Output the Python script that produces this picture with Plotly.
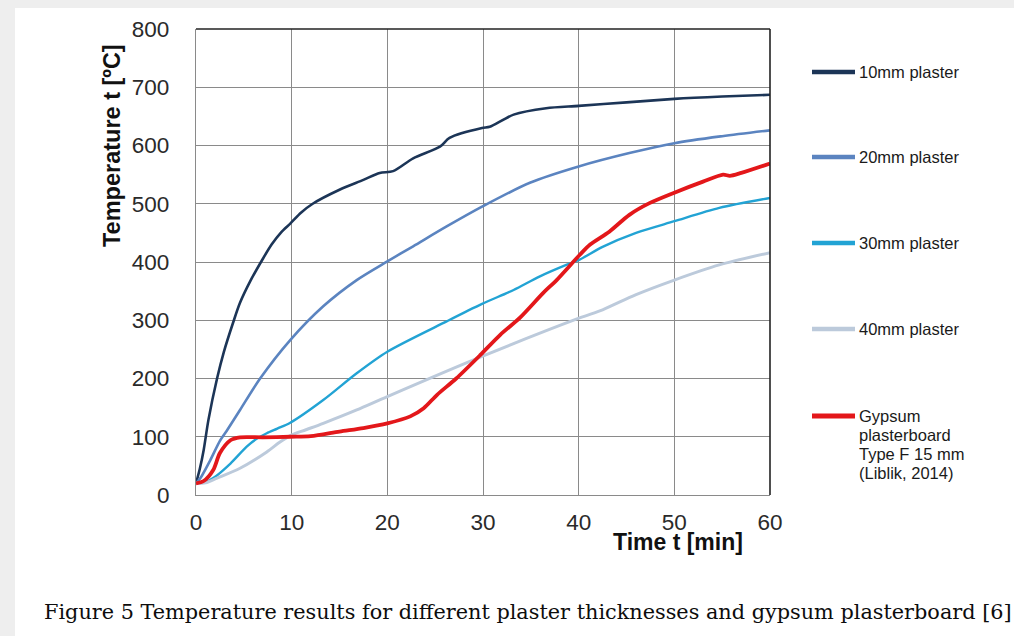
import plotly.graph_objects as go

# Time axis ticks (min) and temperature ticks (°C)
x_ticks = [0, 10, 20, 30, 40, 50, 60]
y_ticks = [0, 100, 200, 300, 400, 500, 600, 700, 800]

# 10 mm plaster
t_10 = [0, 0.4, 0.8, 1.3, 2.2, 2.9, 3.9, 4.6, 5.7, 6.9, 7.9, 8.9, 9.85, 11, 12.2, 15, 17.5,
        19.2, 20.6, 22.7, 25.5, 26.5, 29.9, 30.7, 33.2, 36.6, 40, 45, 50, 55, 60]
T_10 = [20, 45, 77, 129, 200, 245, 297, 330, 368, 403, 430, 451, 466, 485, 500, 524, 541,
        553, 556, 578, 598, 613, 630, 632, 653, 664, 668, 674, 680, 684, 687]

# 20 mm plaster
t_20 = [0, 0.5, 1.5, 2.5, 3.2, 4.6, 6.7, 9.85, 13.3, 16.8, 20, 22.7, 26.2, 29.9,
        34.9, 40, 45.3, 50, 55, 60]
T_20 = [20, 30, 60, 93, 110, 146, 200, 266, 324, 369, 401, 427, 461, 495,
        536, 564, 587, 604, 616, 626]

# 30 mm plaster
t_30 = [0, 1, 1.8, 3.6, 5.3, 6.3, 7.4, 8.5, 9.85, 13.3, 16.8, 20, 26.2, 29.9, 33.2, 35.9,
        38.7, 40.1, 42.5, 46, 50, 54.7, 60]
T_30 = [20, 22, 29, 54, 83, 96, 106, 114, 124, 163, 209, 246, 298, 328, 352, 375,
        395, 404, 426, 450, 470, 493, 510]

# 40 mm plaster
t_40 = [0, 1, 2.2, 4.6, 7.4, 8.7, 9.85, 11.5, 13.3, 16.8, 20, 29.9, 40.1, 42.5, 46, 50, 54.7, 60]
T_40 = [20, 21, 29, 46, 74, 90, 102, 112, 123, 146, 169, 238, 304, 318, 344, 369, 395, 416]

# Gypsum plasterboard Type F 15 mm
t_gyp = [0, 0.8, 1.8, 2.5, 3.6, 4.6, 7, 9.85, 12, 15, 17.5, 20, 22.4, 23.8, 25.2, 27.2,
         29.7, 31.8, 33.9, 36.3, 37.7, 40.1, 41.2, 43.2, 45.3, 47.4, 50, 53, 55.1, 55.8,
         57, 60]
T_gyp = [20, 24, 43, 72, 94, 99, 99, 100, 101, 109, 115, 123, 135, 149, 172, 200,
         240, 275, 305, 347, 369, 412, 430, 452, 481, 501, 519, 538, 550, 548,
         553, 569]

series_labels = [["10mm plaster"], ["20mm plaster"], ["30mm plaster"], ["40mm plaster"],
                 ["Gypsum", "plasterboard", "Type F 15 mm", "(Liblik, 2014)"]]
series_t = [t_10, t_20, t_30, t_40, t_gyp]
series_T = [T_10, T_20, T_30, T_40, T_gyp]
series_colors = ["#1c3557", "#5b84c0", "#22a3d4", "#bccadb", "#e3171a"]
series_widths = [2.6, 2.6, 2.4, 3.0, 3.8]

W, H = 1014, 636
L, R, T, B = 196, 770, 29, 495  # plot area edges in pixels


def px_x(px):
    return (px - L) / (R - L)


def px_y(py):
    return (B - py) / (B - T)


fig = go.Figure()
for t, temp, col, w in zip(series_t, series_T, series_colors, series_widths):
    fig.add_trace(go.Scatter(x=t, y=temp, mode="lines",
                             line=dict(color=col, width=w, shape="spline", smoothing=0.8),
                             showlegend=False, hoverinfo="skip"))

shapes = []
# white page panel
shapes.append(dict(type="rect", xref="paper", yref="paper", layer="below",
                   x0=px_x(15), x1=px_x(W + 5), y0=px_y(H + 5), y1=px_y(8),
                   fillcolor="white", line=dict(width=0)))
# dark frame on top and right edges
shapes.append(dict(type="line", xref="paper", yref="paper", x0=0, x1=1, y0=1, y1=1,
                   line=dict(color="#222222", width=1.6)))
shapes.append(dict(type="line", xref="paper", yref="paper", x0=1, x1=1, y0=0, y1=1,
                   line=dict(color="#222222", width=1.6)))

annotations = []
sans = "Liberation Sans, Arial"
# legend entries
legend_y = [72, 157, 243, 329, 416]
for lines, col, ly in zip(series_labels, series_colors, legend_y):
    shapes.append(dict(type="line", xref="paper", yref="paper",
                       x0=px_x(812), x1=px_x(855), y0=px_y(ly), y1=px_y(ly),
                       line=dict(color=col, width=4.5 if col != "#e3171a" else 5)))
    for i, txt in enumerate(lines):
        annotations.append(dict(xref="paper", yref="paper", x=px_x(857), y=px_y(ly + 19 * i),
                                xanchor="left", yanchor="middle", align="left",
                                text=txt, showarrow=False,
                                font=dict(family=sans, size=16.5, color="#1a1a1a")))

# axis titles
annotations.append(dict(xref="paper", yref="paper", x=px_x(112), y=px_y(146),
                        xanchor="center", yanchor="middle",
                        text="<b>Temperature t [ºC]</b>", textangle=-90, showarrow=False,
                        font=dict(family=sans, size=23.5, color="#111111")))
annotations.append(dict(xref="paper", yref="paper", x=px_x(678), y=px_y(542),
                        xanchor="center", yanchor="middle",
                        text="<b>Time t [min]</b>", showarrow=False,
                        font=dict(family=sans, size=23, color="#111111")))
# figure caption
annotations.append(dict(xref="paper", yref="paper", x=px_x(42), y=px_y(612),
                        xanchor="left", yanchor="middle",
                        text="Figure 5 Temperature results for different plaster thicknesses and gypsum plasterboard [6]",
                        showarrow=False,
                        font=dict(family="DejaVu Serif, serif", size=20.8, color="#0d0d0d")))

axis_font = dict(family=sans, size=22.5, color="#2a2a2a")
fig.update_layout(
    width=W, height=H, autosize=False,
    margin=dict(l=L, r=W - R, t=T, b=H - B, pad=0),
    paper_bgcolor="#eeeeee", plot_bgcolor="white",
    shapes=shapes, annotations=annotations,
    xaxis=dict(range=[0, 60], tickvals=x_ticks, showgrid=True, gridcolor="#8a8a8a",
               gridwidth=1.2, zeroline=False, showline=True, linecolor="#8a8a8a",
               linewidth=1.2, ticks="", tickfont=axis_font, ticklabelstandoff=7),
    yaxis=dict(range=[0, 800], tickvals=y_ticks, showgrid=True, gridcolor="#8a8a8a",
               gridwidth=1.2, zeroline=False, showline=True, linecolor="#8a8a8a",
               linewidth=1.2, ticks="", tickfont=axis_font, ticklabelstandoff=21),
)

fig.write_html("out.html")
